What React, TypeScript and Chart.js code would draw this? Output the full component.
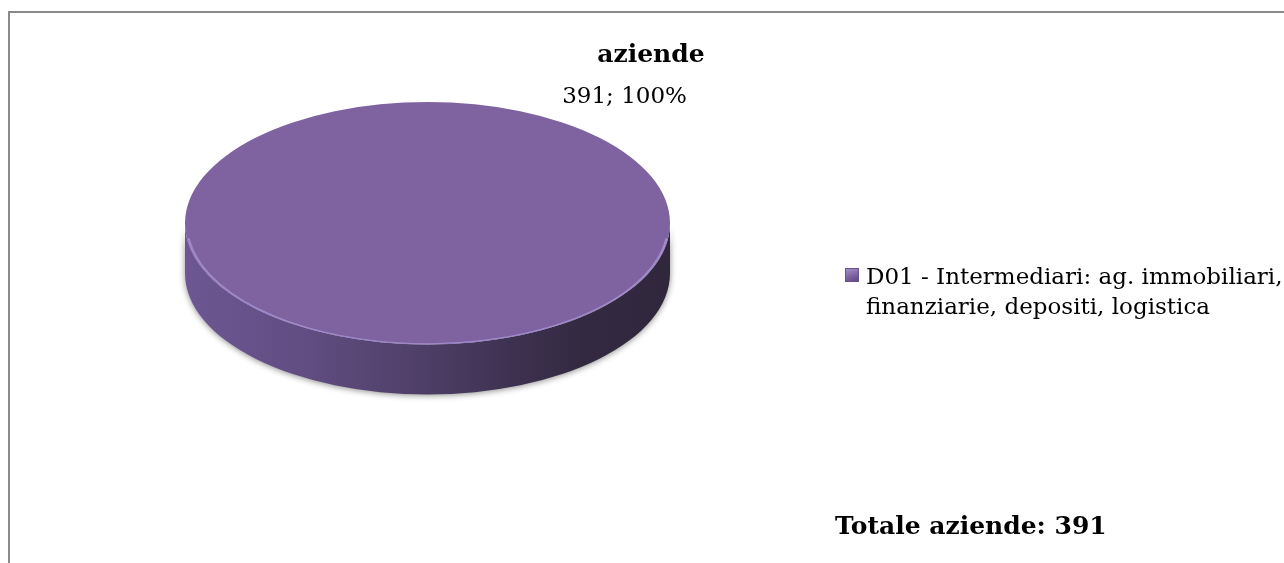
import React, { useEffect, useRef } from "react";
import { Chart, registerables } from "chart.js";

Chart.register(...registerables);

// ---- data ----
const TITLE = "aziende";
const CATEGORIES = ["D01 - Intermediari: ag. immobiliari, finanziarie, depositi, logistica"];
const VALUES = [391];
const COLORS = ["#7f63a1"];
const TOTAL_LABEL = "Totale aziende";

const FONT = "'DejaVu Serif', serif";

export default function App() {
  const ref = useRef<HTMLCanvasElement>(null);

  useEffect(() => {
    const canvas = ref.current!;
    const TILT = 0.5;
    const DEPTH = 50;
    const LABEL_ANGLE = (-52 * Math.PI) / 180;
    const LABEL_DIST = 1.32;
    const total = VALUES.reduce((a, b) => a + b, 0);

    const geom = (chart: any) => {
      const arc = chart.getDatasetMeta(0).data[0] as any;
      if (!arc) return null;
      const p = arc.getProps(["x", "y", "outerRadius"], true);
      const yc = chart.chartArea.top + p.outerRadius * TILT;
      return { x: p.x, y: p.y, r: p.outerRadius, yc };
    };

    const pie3d = {
      id: "pie3d",
      beforeDatasetsDraw(chart: any) {
        const g = geom(chart);
        if (!g) return;
        const { x, y, r, yc } = g;
        const ctx = chart.ctx as CanvasRenderingContext2D;
        ctx.save();
        ctx.translate(0, yc);
        ctx.scale(1, TILT);
        ctx.translate(0, -y);
        const d = DEPTH / TILT;
        const grad = ctx.createLinearGradient(x - r, 0, x + r, 0);
        grad.addColorStop(0, "#6d5793");
        grad.addColorStop(0.25, "#614d81");
        grad.addColorStop(0.5, "#4d3e66");
        grad.addColorStop(0.68, "#3d3150");
        grad.addColorStop(0.82, "#332a41");
        grad.addColorStop(1, "#30273d");
        ctx.save();
        ctx.shadowColor = "rgba(0,0,0,0.45)";
        ctx.shadowBlur = 6;
        ctx.shadowOffsetY = 1;
        ctx.beginPath();
        ctx.moveTo(x + r, y);
        ctx.lineTo(x + r, y + d);
        ctx.arc(x, y + d, r, 0, Math.PI, false);
        ctx.lineTo(x - r, y);
        ctx.arc(x, y, r, Math.PI, 0, true);
        ctx.closePath();
        ctx.fillStyle = grad;
        ctx.fill();
        ctx.restore();
      },
      afterDatasetsDraw(chart: any) {
        const g = geom(chart);
        if (!g) return;
        const { x, y, r, yc } = g;
        const ctx = chart.ctx as CanvasRenderingContext2D;
        // rim highlight on the front edge of the top face
        ctx.beginPath();
        ctx.arc(x, y, r - 1.5, 0.04 * Math.PI, 0.96 * Math.PI, false);
        ctx.strokeStyle = "rgba(170,150,215,0.75)";
        ctx.lineWidth = 2.5;
        ctx.stroke();
        ctx.restore();

        // data label
        const v = VALUES[0];
        const pct = Math.round((v / total) * 100);
        const lx = x + r * LABEL_DIST * Math.cos(LABEL_ANGLE);
        const ly = yc + r * LABEL_DIST * Math.sin(LABEL_ANGLE) * TILT;
        ctx.save();
        ctx.font = `23px ${FONT}`;
        ctx.fillStyle = "#000";
        ctx.textAlign = "center";
        ctx.textBaseline = "middle";
        ctx.fillText(`${v}; ${pct}%`, lx, ly);
        ctx.restore();
      },
    };

    const chart = new Chart(canvas, {
      type: "pie",
      data: {
        labels: CATEGORIES,
        datasets: [
          {
            data: VALUES,
            backgroundColor: COLORS,
            borderWidth: 0,
            radius: 242.5,
            clip: false,
          } as any,
        ],
      },
      options: {
        responsive: false,
        animation: false,
        layout: { padding: { left: 185, right: 614, top: 102, bottom: 0 } },
        plugins: {
          legend: { display: false },
          title: { display: false },
          tooltip: { enabled: false },
        },
        events: [],
      },
      plugins: [pie3d],
    });
    return () => chart.destroy();
  }, []);

  const total = VALUES.reduce((a, b) => a + b, 0);

  return (
    <div
      style={{
        position: "fixed",
        left: 0,
        top: 0,
        width: 1284,
        height: 563,
        overflow: "hidden",
        background: "#fff",
        fontFamily: FONT,
        color: "#000",
      }}
    >
      <div
        style={{
          position: "absolute",
          left: 8,
          top: 11,
          width: 1400,
          height: 700,
          border: "2px solid #8a8a8a",
          boxSizing: "border-box",
        }}
      />
      <canvas ref={ref} width={1284} height={563} style={{ position: "absolute", left: 0, top: 0 }} />
      <div
        style={{
          position: "absolute",
          left: 0,
          top: 39,
          width: 1302,
          textAlign: "center",
          fontSize: 25,
          fontWeight: "bold",
          lineHeight: "30px",
        }}
      >
        {TITLE}
      </div>
      <div
        style={{
          position: "absolute",
          left: 845,
          top: 268,
          width: 14,
          height: 14,
          boxSizing: "border-box",
          background: "linear-gradient(160deg, #a58fcc 0%, #7f63a1 55%, #5d4784 100%)",
          border: "1px solid #6a5190",
        }}
      />
      <div
        style={{
          position: "absolute",
          left: 866,
          top: 261,
          width: 430,
          fontSize: 23,
          lineHeight: "30px",
        }}
      >
        {CATEGORIES[0]}
      </div>
      <div
        style={{
          position: "absolute",
          left: 835,
          top: 511,
          fontSize: 25,
          fontWeight: "bold",
          lineHeight: "30px",
          whiteSpace: "nowrap",
        }}
      >
        {`${TOTAL_LABEL}: ${total}`}
      </div>
    </div>
  );
}
